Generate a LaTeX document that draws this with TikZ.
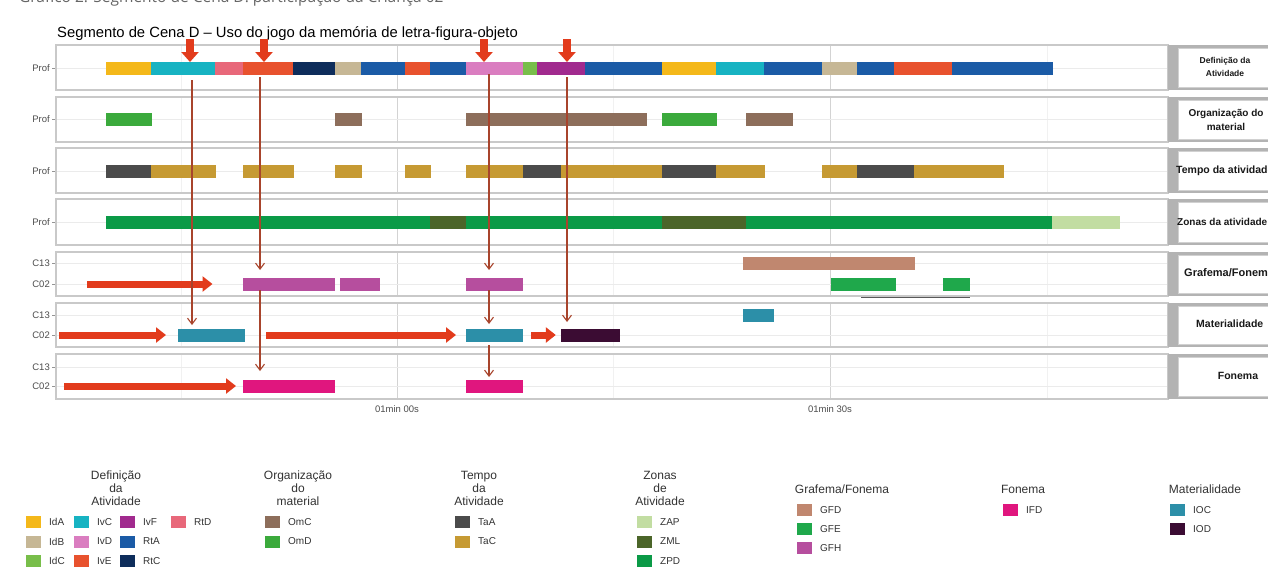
\documentclass[tikz,border=0pt]{standalone}
\usepackage{fontspec}
\setmainfont{Liberation Sans}
\newfontfamily\capfont{Open Sans}
\usetikzlibrary{arrows.meta}
\definecolor{cIdA}{HTML}{F4B81A}
\definecolor{cIvC}{HTML}{17B3C2}
\definecolor{cIvF}{HTML}{A12A8E}
\definecolor{cRtD}{HTML}{E8687A}
\definecolor{cIdB}{HTML}{C6B795}
\definecolor{cIvD}{HTML}{DA7DC0}
\definecolor{cRtA}{HTML}{1B5BA6}
\definecolor{cIdC}{HTML}{78BE4A}
\definecolor{cIvE}{HTML}{E8522E}
\definecolor{cRtC}{HTML}{0E2D5B}
\definecolor{cOmC}{HTML}{8D6E5B}
\definecolor{cOmD}{HTML}{3BAA3C}
\definecolor{cTaA}{HTML}{4B4B4B}
\definecolor{cTaC}{HTML}{C69A33}
\definecolor{cZAP}{HTML}{C2DDA2}
\definecolor{cZML}{HTML}{4B6529}
\definecolor{cZPD}{HTML}{0B9A47}
\definecolor{cGFD}{HTML}{C0876F}
\definecolor{cGFE}{HTML}{1FA84B}
\definecolor{cGFH}{HTML}{B64E9E}
\definecolor{cIFD}{HTML}{E0167E}
\definecolor{cIOC}{HTML}{2C8FA8}
\definecolor{cIOD}{HTML}{3B0C33}
\definecolor{redarr}{HTML}{E23B1C}
\definecolor{connc}{HTML}{A8442C}
\definecolor{gridc}{HTML}{EBEBEB}
\definecolor{framec}{HTML}{C9C9C9}
\definecolor{stripc}{HTML}{B3B3B3}
\definecolor{axtext}{HTML}{4D4D4D}
\definecolor{legtext}{HTML}{333333}
\definecolor{capgray}{HTML}{666666}
\newcommand\seg[5]{\pgfmathsetmacro\segw{#3-#2}\node[segbox,fill=#5,draw=#5,minimum width=\segw pt] (#1) at (#2,#4) {};}
\newcommand\lkey[5]{\node[keybox,fill=#4] (#1) at (#2,#3) {};\node[keylab] (#1t) at ([xshift=8pt]#1.east) {#5};}
\begin{document}
\begin{tikzpicture}[x=1pt,y=-1pt,
  segbox/.style={inner sep=0pt,outer sep=0pt,minimum height=12pt,anchor=west,line width=0.3pt},
  keybox/.style={inner sep=0pt,outer sep=0pt,minimum width=15pt,minimum height=12pt,anchor=west},
  keylab/.style={anchor=west,inner sep=0pt,text=legtext,font=\fontsize{10}{12}\selectfont},
  legtitle/.style={inner sep=0pt,text=legtext,align=center,font=\fontsize{12}{12.8}\selectfont},
  rowlab/.style={anchor=east,inner sep=0pt,text=axtext,font=\fontsize{9.5}{11}\selectfont},
  striplab/.style={inner sep=0pt,text=black!90,align=center},
  gridminor/.style={draw=gridc!70!white,line width=0.6pt},
  gridmajor/.style={draw=gridc!90!black,line width=0.8pt},
  gridrow/.style={draw=gridc,line width=0.9pt},
  tickm/.style={draw=axtext!60,line width=0.8pt},
  frame/.style={draw=framec,line width=1.2pt},
  stripbox/.style={fill=white,draw=black!18,line width=0.6pt},
  redv/.style={draw=redarr,line width=8pt,-{Triangle[length=10pt,width=17pt]}},
  redh/.style={draw=redarr,line width=7pt,-{Triangle[length=10pt,width=15pt]}},
  conn/.style={draw=connc,line width=1.1pt,-{Straight Barb[length=6pt,width=9pt]}}]
\useasboundingbox (0,0) rectangle (1268,570);
\fill[white] (0,0) rectangle (1268,570);
% caption (cut at top) and title
\node[anchor=base west,inner sep=0pt,text=capgray,font=\capfont\fontsize{15.5}{18}\selectfont] (cap) at (19,2.5) {Gráfico 2: Segmento de Cena D: participação da Criança 02};
\node[anchor=base west,inner sep=0pt,font=\fontsize{14.8}{17}\selectfont] (title) at (57,37.5) {Segmento de Cena D – Uso do jogo da memória de letra-figura-objeto};
% panels: grid
\foreach \t/\b in {45/90,97/142,148/193,199/245,252/296,303/347,354/399}{
  \foreach \gx in {181,613,1047} \draw[gridminor] (\gx,\t) -- (\gx,\b);
  \foreach \gx in {397,830} \draw[gridmajor] (\gx,\t) -- (\gx,\b);
}
\foreach \y/\l [count=\i] in {68/Prof,119/Prof,171/Prof,222/Prof,263/C13,284/C02,315/C13,335/C02,367/C13,386/C02}{
  \draw[gridrow] (56,\y) -- (1168,\y);
  \draw[tickm] (52,\y) -- (56,\y);
  \node[rowlab] (rl\i) at (50,\y) {\l};
}
\foreach \t/\b in {45/90,97/142,148/193,199/245,252/296,303/347,354/399}{
  \draw[frame] (56,\t) rectangle (1168,\b);
  \fill[stripc] (1168,\t) rectangle (1268,\b);
  \draw[stripbox] (1178,\t+3) rectangle (1272,\b-3);
}
% strip labels
\node[striplab,font=\bfseries\fontsize{8.5}{13}\selectfont] (s1) at (1225,66.5) {Definição da\\Atividade};
\node[striplab,font=\bfseries\fontsize{10}{14}\selectfont] (s2) at (1226,119.5) {Organização do\\material};
\node[striplab,anchor=west,font=\bfseries\fontsize{10.5}{12}\selectfont] (s3) at (1176,171) {Tempo da atividade};
\node[striplab,anchor=west,font=\bfseries\fontsize{10}{12}\selectfont] (s4) at (1177,222) {Zonas da atividade};
\node[striplab,anchor=west,font=\bfseries\fontsize{11}{12}\selectfont] (s5) at (1184,273) {Grafema/Fonema};
\node[striplab,anchor=west,font=\bfseries\fontsize{10.5}{12}\selectfont] (s6) at (1196,324) {Materialidade};
\node[striplab,font=\bfseries\fontsize{10.5}{12}\selectfont] (s7) at (1238,375.5) {Fonema};
% axis labels
\node[text=axtext,inner sep=0pt,font=\fontsize{9.5}{11}\selectfont] (ax1) at (397,409) {01min 00s};
\node[text=axtext,inner sep=0pt,font=\fontsize{9.5}{11}\selectfont] (ax2) at (830,409) {01min 30s};
% Definicao da Atividade
\seg{d1}{106.5}{151}{68}{cIdA}
\seg{d2}{151}{215.5}{68}{cIvC}
\seg{d3}{215.5}{243}{68}{cRtD}
\seg{d4}{243}{293}{68}{cIvE}
\seg{d5}{293}{334.7}{68}{cRtC}
\seg{d6}{334.7}{360.8}{68}{cIdB}
\seg{d7}{360.8}{405.3}{68}{cRtA}
\seg{d8}{405.3}{430.6}{68}{cIvE}
\seg{d9}{430.6}{466.5}{68}{cRtA}
\seg{d10}{466.5}{522.9}{68}{cIvD}
\seg{d11}{522.9}{537.1}{68}{cIdC}
\seg{d12}{537.1}{584.9}{68}{cIvF}
\seg{d13}{584.9}{661.7}{68}{cRtA}
\seg{d14}{661.7}{716.4}{68}{cIdA}
\seg{d15}{716.4}{764}{68}{cIvC}
\seg{d16}{764}{822.5}{68}{cRtA}
\seg{d17}{822.5}{857.6}{68}{cIdB}
\seg{d18}{857.6}{893.8}{68}{cRtA}
\seg{d19}{893.8}{952}{68}{cIvE}
\seg{d20}{952}{1052.2}{68}{cRtA}
% Organizacao do material
\seg{o1}{106.5}{151}{119}{cOmD}
\seg{o2}{334.7}{360.8}{119}{cOmC}
\seg{o3}{466.5}{646.5}{119}{cOmC}
\seg{o4}{661.7}{716.4}{119}{cOmD}
\seg{o5}{745.7}{792}{119}{cOmC}
% Tempo da atividade
\seg{t1}{106.5}{151}{171}{cTaA}
\seg{t2}{151}{215.5}{171}{cTaC}
\seg{t3}{243}{293}{171}{cTaC}
\seg{t4}{334.7}{360.8}{171}{cTaC}
\seg{t5}{405.3}{430.6}{171}{cTaC}
\seg{t6}{466.5}{522.9}{171}{cTaC}
\seg{t7}{522.9}{560.8}{171}{cTaA}
\seg{t8}{560.8}{661.7}{171}{cTaC}
\seg{t9}{661.7}{716.4}{171}{cTaA}
\seg{t10}{716.4}{764}{171}{cTaC}
\seg{t11}{822.5}{857.6}{171}{cTaC}
\seg{t12}{857.6}{914.5}{171}{cTaA}
\seg{t13}{914.5}{1003.6}{171}{cTaC}
% Zonas da atividade
\seg{z1}{106.5}{430.6}{222}{cZPD}
\seg{z2}{430.6}{466.5}{222}{cZML}
\seg{z3}{466.5}{661.7}{222}{cZPD}
\seg{z4}{661.7}{745.7}{222}{cZML}
\seg{z5}{745.7}{1052.2}{222}{cZPD}
\seg{z6}{1052.2}{1119}{222}{cZAP}
% Grafema/Fonema
\seg{gfh1}{243.5}{333.7}{284}{cGFH}
\seg{gfh2}{340}{379.6}{284}{cGFH}
\seg{gfh3}{466.5}{522.5}{284}{cGFH}
\seg{gfd1}{743.4}{914}{263}{cGFD}
\seg{gfe1}{830.7}{895}{284}{cGFE}
\seg{gfe2}{942.8}{969}{284}{cGFE}
\coordinate (ul1) at (861,297);
\coordinate (ul2) at (970,297);
\draw[draw=black!65,line width=1pt] (ul1) -- (ul2);
% Materialidade
\seg{ioc1}{178}{244}{335}{cIOC}
\seg{ioc2}{466.5}{522.5}{335}{cIOC}
\seg{ioc3}{743.4}{773.4}{315}{cIOC}
\seg{iod1}{560.8}{619.6}{335}{cIOD}
% Fonema
\seg{ifd1}{243.5}{333.7}{386}{cIFD}
\seg{ifd2}{466.5}{522.5}{386}{cIFD}
% red arrows
\coordinate (ta1) at (190,39);
\coordinate (ta2) at (264,39);
\coordinate (ta3) at (484,39);
\coordinate (ta4) at (567,39);
\draw[redv] (ta1) -- (d2.north -| ta1);
\draw[redv] (ta2) -- (d4.north -| ta2);
\draw[redv] (ta3) -- (d10.north -| ta3);
\draw[redv] (ta4) -- (d12.north -| ta4);
\coordinate (ha1) at (87,284);
\coordinate (ha2) at (59,335);
\coordinate (ha3) at (266,335);
\coordinate (ha4) at (531,335);
\coordinate (ha5) at (64,386);
\draw[redh] (ha1) -- ([xshift=-31pt]gfh1.west);
\draw[redh] (ha2) -- ([xshift=-12pt]ioc1.west);
\draw[redh] (ha3) -- ([xshift=-10.5pt]ioc2.west);
\draw[redh] (ha4) -- ([xshift=-5pt]iod1.west);
\draw[redh] (ha5) -- ([xshift=-7.5pt]ifd1.west);
% thin connectors
\coordinate (c1) at (192,80);
\coordinate (c2) at (260,77);
\coordinate (c3) at (489,74);
\coordinate (c4) at (567,77);
\draw[conn,shorten >=4pt] (c1) -- (ioc1.north -| c1);
\draw[conn,shorten >=8pt] (c2) -- (gfh1.north -| c2);
\draw[conn,shorten >=9pt] (gfh1.south -| c2) -- (ifd1.north -| c2);
\draw[conn,shorten >=8pt] (c3) -- (gfh3.north -| c3);
\draw[conn,shorten >=5pt] (gfh3.south -| c3) -- (ioc2.north -| c3);
\draw[conn,shorten <=4pt,shorten >=3pt] (ioc2.south -| c3) -- (ifd2.north -| c3);
\draw[conn,shorten >=7pt] (c4) -- (iod1.north -| c4);
% legend
\node[legtitle,anchor=north] (lt1) at (116,471) {Definição\\da\\Atividade};
\lkey{kIdA}{26}{522}{cIdA}{IdA}
\lkey{kIvC}{74}{522}{cIvC}{IvC}
\lkey{kIvF}{120}{522}{cIvF}{IvF}
\lkey{kRtD}{171}{522}{cRtD}{RtD}
\lkey{kIdB}{26}{541.5}{cIdB}{IdB}
\lkey{kIvD}{74}{541.5}{cIvD}{IvD}
\lkey{kRtA}{120}{541.5}{cRtA}{RtA}
\lkey{kIdC}{26}{561}{cIdC}{IdC}
\lkey{kIvE}{74}{561}{cIvE}{IvE}
\lkey{kRtC}{120}{561}{cRtC}{RtC}
\node[legtitle,anchor=north] (lt2) at (298,471) {Organização\\do\\material};
\lkey{kOmC}{265}{522}{cOmC}{OmC}
\lkey{kOmD}{265}{541.5}{cOmD}{OmD}
\node[legtitle,anchor=north] (lt3) at (479,471) {Tempo\\da\\Atividade};
\lkey{kTaA}{455}{522}{cTaA}{TaA}
\lkey{kTaC}{455}{541.5}{cTaC}{TaC}
\node[legtitle,anchor=north] (lt4) at (660,471) {Zonas\\de\\Atividade};
\lkey{kZAP}{637}{522}{cZAP}{ZAP}
\lkey{kZML}{637}{541.5}{cZML}{ZML}
\lkey{kZPD}{637}{561}{cZPD}{ZPD}
\node[legtitle] (lt5) at (842,489) {Grafema/Fonema};
\lkey{kGFD}{797}{510}{cGFD}{GFD}
\lkey{kGFE}{797}{529}{cGFE}{GFE}
\lkey{kGFH}{797}{548}{cGFH}{GFH}
\node[legtitle] (lt6) at (1023,489) {Fonema};
\lkey{kIFD}{1003}{510}{cIFD}{IFD}
\node[legtitle] (lt7) at (1205,489) {Materialidade};
\lkey{kIOC}{1170}{510}{cIOC}{IOC}
\lkey{kIOD}{1170}{529}{cIOD}{IOD}
\end{tikzpicture}
\end{document}
